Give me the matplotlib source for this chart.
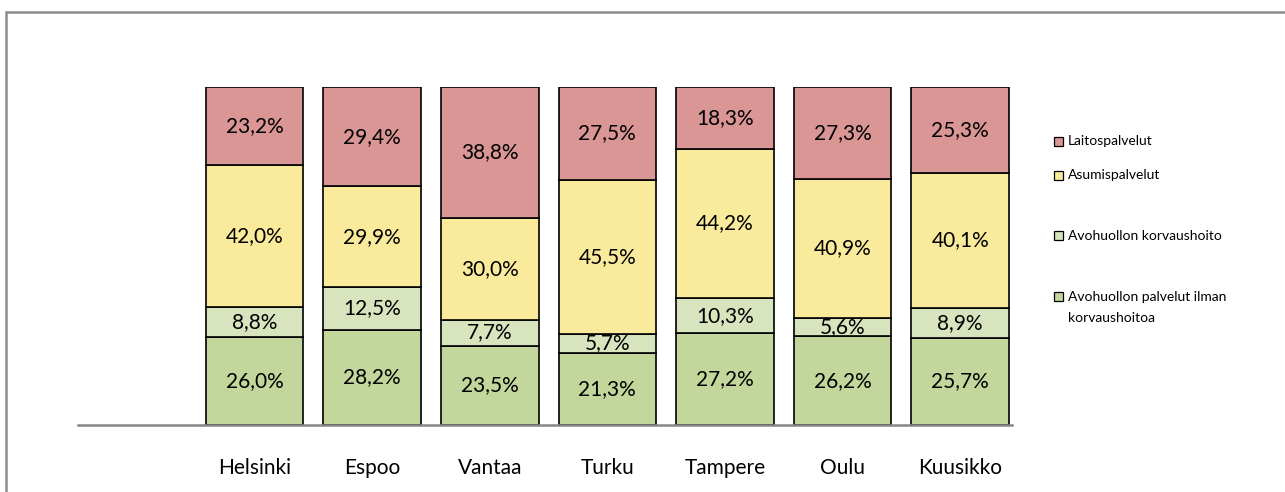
import matplotlib
matplotlib.use("Agg")
import matplotlib.pyplot as plt
from matplotlib.patches import Rectangle
import numpy as np

plt.rcParams["font.family"] = ["Lato", "DejaVu Sans"]

# Data (shares, %)
cities = ["Helsinki", "Espoo", "Vantaa", "Turku", "Tampere", "Oulu", "Kuusikko"]
avo_ilman = [26.0, 28.2, 23.5, 21.3, 27.2, 26.2, 25.7]
avo_korv = [8.8, 12.5, 7.7, 5.7, 10.3, 5.6, 8.9]
asumis = [42.0, 29.9, 30.0, 45.5, 44.2, 40.9, 40.1]
laitos = [23.2, 29.4, 38.8, 27.5, 18.3, 27.3, 25.3]
colors = ["#C3D69B", "#D7E4BD", "#FAEB9C", "#D99694"]

fig = plt.figure(figsize=(12.85, 4.92), dpi=100)
W, H = 1285, 492

# outer chart border (runs off the right and bottom edge)
fig.patches.append(Rectangle((6 / W, -0.1), 1.2, 1 - 12 / H + 0.1,
                             transform=fig.transFigure, fill=False,
                             edgecolor="#8c8c8c", linewidth=1.8))

ax = fig.add_axes([78 / W, (H - 425) / H, (1012 - 78) / W, (425 - 87) / H])
x = np.arange(len(cities))
bottom = np.zeros(len(cities))
for vals, col in zip([avo_ilman, avo_korv, asumis, laitos], colors):
    vals = np.array(vals)
    ax.bar(x, vals, 0.83, bottom=bottom, color=col, edgecolor="black",
           linewidth=1.2)
    for xi, b, v in zip(x, bottom, vals):
        ax.text(xi, b + v / 2, f"{v:.1f}%".replace(".", ","), ha="center",
                va="center", fontsize=15, color="black")
    bottom += vals

ax.set_xlim(-1.5, 6.44)
ax.set_ylim(0, 100)
for s in ["top", "right", "left"]:
    ax.spines[s].set_visible(False)
ax.spines["bottom"].set_color("#868686")
ax.spines["bottom"].set_linewidth(1.8)
ax.set_yticks([])
ax.set_xticks(x)
ax.set_xticklabels(cities, fontsize=15)
ax.tick_params(axis="x", length=0, pad=24)

# legend (manual, to follow the uneven spacing of the original)
leg_y = [141, 175, 236, 296]
leg_labels = ["Laitospalvelut", "Asumispalvelut", "Avohuollon korvaushoito",
              "Avohuollon palvelut ilman\nkorvaushoitoa"]
leg_cols = [colors[3], colors[2], colors[1], colors[0]]
for yy, lab, col in zip(leg_y, leg_labels, leg_cols):
    fig.patches.append(Rectangle((1054 / W, (H - yy - 4.5) / H), 9 / W, 9 / H,
                                 transform=fig.transFigure, facecolor=col,
                                 edgecolor="black", linewidth=0.9))
    fig.text(1068 / W, (H - yy + 5) / H if "\n" in lab else (H - yy) / H, lab,
             fontsize=10, va="top" if "\n" in lab else "center",
             ha="left", linespacing=1.95)

fig.savefig("out.png", dpi=100)
